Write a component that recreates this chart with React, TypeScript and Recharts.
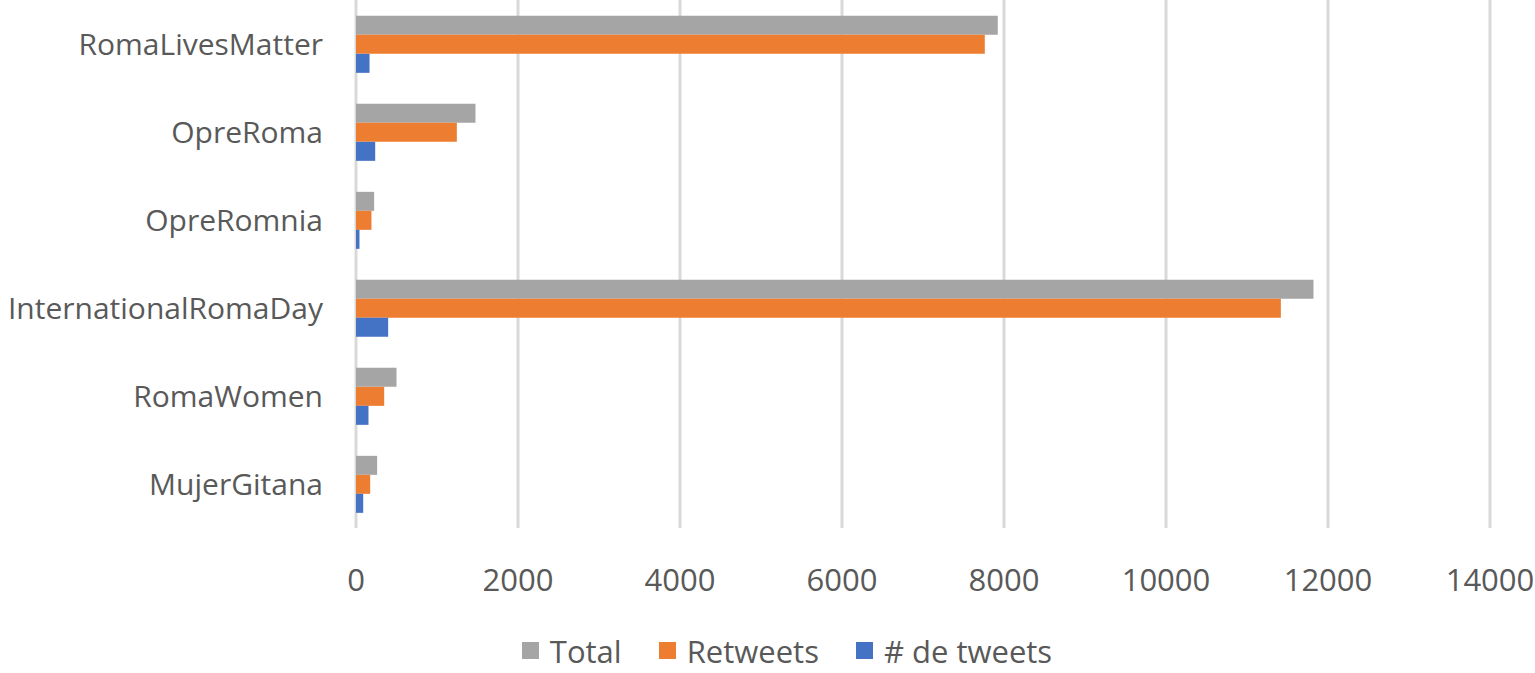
import { BarChart, Bar, XAxis, YAxis, CartesianGrid, Legend } from "recharts"

const CATEGORIES = ["RomaLivesMatter", "OpreRoma", "OpreRomnia", "InternationalRomaDay", "RomaWomen", "MujerGitana"]
const TOTAL = [7923, 1475, 224, 11821, 500, 261]
const RETWEETS = [7763, 1245, 191, 11418, 348, 175]
const TWEETS = [167, 237, 43, 397, 154, 89]
const X_TICKS = [0, 2000, 4000, 6000, 8000, 10000, 12000, 14000]

const SERIES = [
  { key: "total", label: "Total", color: "#a5a5a5" },
  { key: "retweets", label: "Retweets", color: "#ed7d31" },
  { key: "tweets", label: "# de tweets", color: "#4472c4" },
]

const data = CATEGORIES.map((name, i) => ({
  name,
  total: TOTAL[i],
  retweets: RETWEETS[i],
  tweets: TWEETS[i],
}))

const FONT = "'Open Sans', sans-serif"
const TEXT = "#595959"

function LegendBox() {
  return (
    <div
      style={{
        display: "flex",
        justifyContent: "center",
        alignItems: "center",
        gap: 37,
        height: 55,
        paddingTop: 10,
        boxSizing: "border-box",
        paddingLeft: 84,
        fontFamily: FONT,
        fontSize: 31,
        color: TEXT,
      }}
    >
      {SERIES.map((s) => (
        <div key={s.key} style={{ display: "flex", alignItems: "center" }}>
          <span style={{ width: 17, height: 17, background: s.color, marginRight: 11, display: "inline-block" }} />
          {s.label}
        </div>
      ))}
    </div>
  )
}

export default function App() {
  return (
    <div style={{ position: "absolute", left: 0, top: 0, background: "#fff" }}>
      <BarChart
        width={1535}
        height={673}
        data={data}
        layout="vertical"
        margin={{ top: 0, right: 45, left: 0, bottom: 0 }}
        barCategoryGap="18%"
        barGap={0}
      >
        <CartesianGrid horizontal={false} stroke="#d9d9d9" strokeWidth={3} />
        <XAxis
          type="number"
          domain={[0, 14000]}
          ticks={X_TICKS}
          axisLine={false}
          tickLine={false}
          tickMargin={35}
          height={90}
          tick={{ fontSize: 31, fill: TEXT, fontFamily: FONT }}
        />
        <YAxis
          type="category"
          dataKey="name"
          width={356}
          axisLine={false}
          tickLine={false}
          tickMargin={27}
          tick={{ fontSize: 30, fill: TEXT, fontFamily: FONT }}
        />
        <Legend verticalAlign="bottom" height={55} content={() => <LegendBox />} />
        {SERIES.map((s) => (
          <Bar key={s.key} dataKey={s.key} name={s.label} fill={s.color} isAnimationActive={false} />
        ))}
      </BarChart>
    </div>
  )
}
